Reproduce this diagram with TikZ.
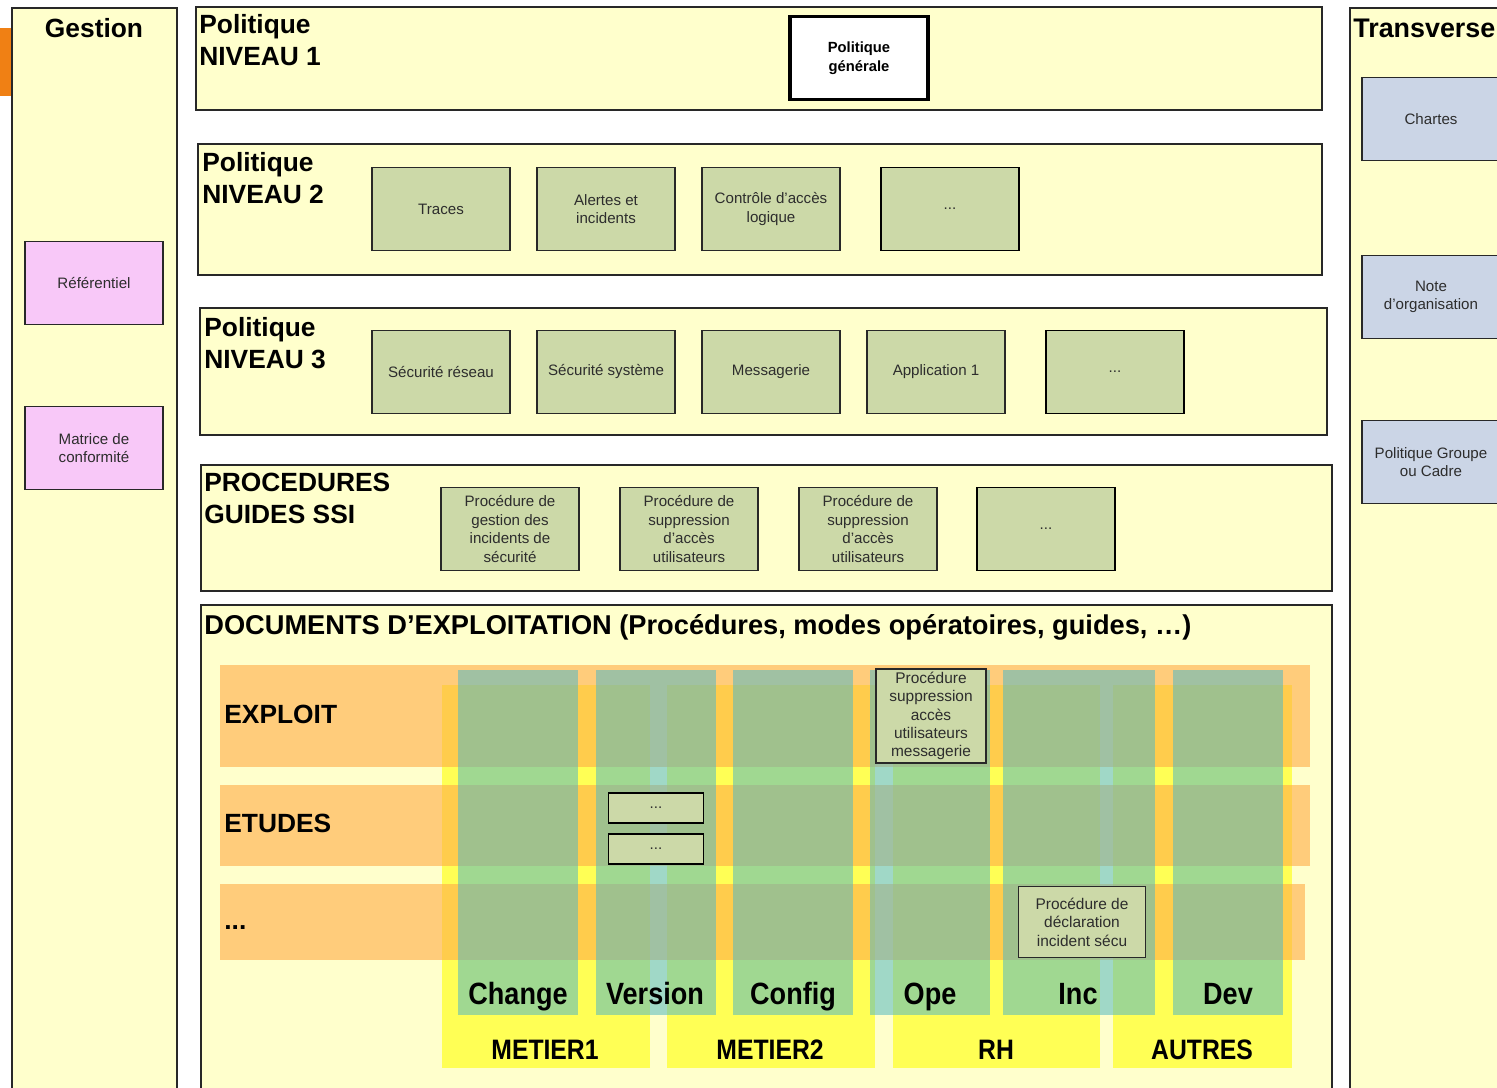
\documentclass[tikz,border=0pt]{standalone}
\usepackage{fontspec}
\setmainfont{Liberation Sans}
\newfontfamily\narrowfont[FakeStretch=0.88]{Liberation Sans}

\definecolor{paleyellow}{RGB}{255,255,204}
\definecolor{framegray}{RGB}{40,40,40}
\definecolor{textgray}{RGB}{45,45,45}
\definecolor{boxgreen}{RGB}{204,217,168}
\definecolor{boxpink}{RGB}{248,200,248}
\definecolor{boxblue}{RGB}{203,213,230}
\definecolor{taborange}{RGB}{240,128,20}
\definecolor{metieryellow}{RGB}{255,255,85}
\definecolor{roworange}{RGB}{255,170,70}
\definecolor{coltint}{RGB}{82,184,196}

\begin{document}
\begin{tikzpicture}[x=0.02cm, y=-0.02cm,
  frame/.style={draw=framegray, line width=1.2pt, fill=paleyellow},
  title/.style={anchor=north west, align=left, inner sep=0pt,
    font=\fontsize{15}{18.2}\selectfont\bfseries},
  box/.style={draw=framegray, line width=1pt, fill=boxgreen, align=center,
    minimum width=2.76cm, minimum height=1.66cm, inner sep=1pt,
    text=textgray, font=\fontsize{8.6}{10.6}\selectfont},
  dotbox/.style={box, draw=black, line width=1.1pt},
  rowlabel/.style={anchor=west, inner sep=0pt, font=\fontsize{15}{16}\selectfont\bfseries},
  collabel/.style={anchor=base, inner sep=0pt, font=\fontsize{17.5}{18}\narrowfont\bfseries},
  grouplabel/.style={anchor=base, inner sep=0pt, font=\fontsize{16}{18}\narrowfont\bfseries}]

  \clip (0,0) rectangle (1497,1088);

  % Side columns
  \fill[taborange] (0,28) rectangle (16,96);
  \draw[frame] (12,8) rectangle (177,1100);
  \draw[frame] (1350,8) rectangle (1510,1100);
  \node (gestion) at (94,28) [font=\fontsize{15}{18}\selectfont\bfseries, inner sep=0pt]{Gestion};
  \node (transverse) at (1353,28) [anchor=west, font=\fontsize{15.3}{18}\selectfont\bfseries, inner sep=0pt]{Transverse};

  \node (referentiel) at (94,283) [box, fill=boxpink]{R\'ef\'erentiel};
  \node (matrice) at (94,448) [box, fill=boxpink]{Matrice de\\conformit\'e};

  \node (chartes) at (1431,119) [box, fill=boxblue]{Chartes};
  \node (note) at (1431,297) [box, fill=boxblue]{Note\\d'organisation};
  \node (cadre) at (1431,462) [box, fill=boxblue]{Politique Groupe\\ou Cadre};

  % Politique niveau 1
  \draw[frame] (196,7) rectangle (1322,110);
  \node (niv1) at (199,14) [title]{Politique\\NIVEAU 1};
  \node (generale) at (859,58) [box, fill=white, draw=black, line width=2pt, text=black,
    font=\fontsize{8.4}{10.6}\selectfont\bfseries]{Politique\\g\'en\'erale};

  % Politique niveau 2
  \draw[frame] (198,144) rectangle (1322,275);
  \node (niv2) at (202,152) [title]{Politique\\NIVEAU 2};
  \node (traces) at (441,209) [box]{Traces};
  \node (alertes) at (606,209) [box]{Alertes et\\incidents};
  \node (controle) at (771,209) [box]{Contr\^ole d'acc\`es\\logique};
  \node (dotsA) at (950,209) [dotbox]{...};

  % Politique niveau 3
  \draw[frame] (200,308) rectangle (1327,435);
  \node (niv3) at (204,317) [title]{Politique\\NIVEAU 3};
  \node (reseau) at (441,372) [box]{S\'ecurit\'e r\'eseau};
  \node (systeme) at (606,372) [box]{S\'ecurit\'e syst\`eme};
  \node (messagerie) at (771,372) [box]{Messagerie};
  \node (appli) at (936,372) [box]{Application 1};
  \node (dotsB) at (1115,372) [dotbox]{...};

  % Procedures et guides
  \draw[frame] (201,465) rectangle (1332,591);
  \node (proc) at (204,473) [title]{PROCEDURES\\GUIDES SSI};
  \node (procInc) at (510,529) [box]{Proc\'edure de\\gestion des\\incidents de\\s\'ecurit\'e};
  \node (procSupA) at (689,529) [box]{Proc\'edure de\\suppression\\d'acc\`es\\utilisateurs};
  \node (procSupB) at (868,529) [box]{Proc\'edure de\\suppression\\d'acc\`es\\utilisateurs};
  \node (dotsC) at (1046,529) [dotbox]{...};

  % Documents d'exploitation
  \draw[frame] (201,605) rectangle (1332,1100);
  \node (docs) at (204,614) [title, font=\fontsize{15.5}{18.2}\selectfont\bfseries]{DOCUMENTS D'EXPLOITATION (Proc\'edures, modes op\'eratoires, guides, \ldots)};

  % Metier groups
  \fill[metieryellow] (442,685) rectangle (650,1068);
  \fill[metieryellow] (667,685) rectangle (875,1068);
  \fill[metieryellow] (893,685) rectangle (1100,1068);
  \fill[metieryellow] (1113,685) rectangle (1292,1068);

  % Rows
  \fill[roworange, opacity=0.6] (220,665) rectangle (1310,767);
  \fill[roworange, opacity=0.6] (220,785) rectangle (1310,866);
  \fill[roworange, opacity=0.6] (220,884) rectangle (1305,960);

  % Process columns
  \foreach \xa/\xb in {458/578, 596/716, 733/853, 870/990, 1003/1155, 1173/1283}
    \fill[coltint, opacity=0.55] (\xa,670) rectangle (\xb,1015);

  % Labels
  \node (exploit) at (224,714) [rowlabel]{EXPLOIT};
  \node (etudes) at (224,823) [rowlabel]{ETUDES};
  \node (dotsRow) at (224,928) [rowlabel]{...};

  \node (change) at (518,1004) [collabel]{Change};
  \node (version) at (655,1004) [collabel]{Version};
  \node (config) at (793,1004) [collabel]{Config};
  \node (ope) at (930,1004) [collabel]{Ope};
  \node (inc) at (1078,1004) [collabel]{Inc};
  \node (dev) at (1228,1004) [collabel]{Dev};

  \node (metierA) at (545,1059) [grouplabel]{METIER1};
  \node (metierB) at (770,1059) [grouplabel]{METIER2};
  \node (rh) at (996,1059) [grouplabel]{RH};
  \node (autres) at (1202,1059) [grouplabel]{AUTRES};

  % Documents in the grid
  \node (procMsg) at (931,716) [box, minimum width=2.2cm, minimum height=1.88cm,
    font=\fontsize{8.8}{10.5}\selectfont]{Proc\'edure\\suppression\\acc\`es\\utilisateurs\\messagerie};
  \node (etudesA) at (656,808) [dotbox, minimum width=1.9cm, minimum height=0.6cm]{...};
  \node (etudesB) at (656,849) [dotbox, minimum width=1.9cm, minimum height=0.6cm]{...};
  \node (procDecl) at (1082,922) [box, minimum width=2.54cm, minimum height=1.42cm,
    font=\fontsize{8.8}{10.5}\selectfont]{Proc\'edure de\\d\'eclaration\\incident s\'ecu};
\end{tikzpicture}
\end{document}
